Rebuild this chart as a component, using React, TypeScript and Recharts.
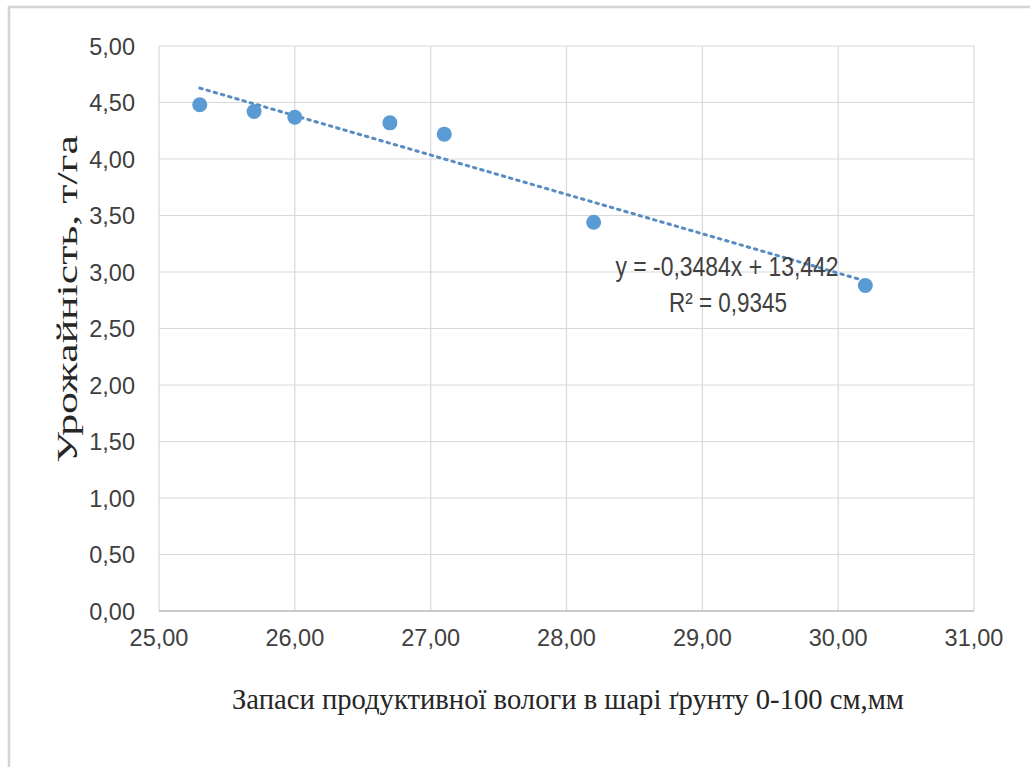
import React from 'react';
import { ScatterChart, Scatter, XAxis, YAxis, CartesianGrid, ReferenceLine } from 'recharts';

// moisture reserve (mm) vs yield (t/ha)
const moisture = [25.3, 25.7, 26.0, 26.7, 27.1, 28.2, 30.2];
const yieldTha = [4.48, 4.42, 4.37, 4.32, 4.22, 3.44, 2.88];
const xTicks = [25, 26, 27, 28, 29, 30, 31];
const yTicks = [0, 0.5, 1, 1.5, 2, 2.5, 3, 3.5, 4, 4.5, 5];

// linear trend as printed on the chart
const SLOPE = -0.3484;
const INTERCEPT = 13.442;
const R2 = 0.9345;

const points = moisture.map((x, i) => ({ x, y: yieldTha[i] }));
const xMin = Math.min(...moisture);
const xMax = Math.max(...moisture);
const trend = [
  { x: xMin, y: SLOPE * xMin + INTERCEPT },
  { x: xMax, y: SLOPE * xMax + INTERCEPT },
];

const BLUE = '#5b9bd5';
const GRID = '#d9d9d9';
const SANS = '"Liberation Sans", Arial, sans-serif';
const SERIF = '"Liberation Serif", "Times New Roman", serif';

const fmt = (v: number) => v.toFixed(2).replace('.', ',');

const XTick = (props: any) => {
  const { x, y, payload } = props;
  return (
    <text x={x} y={y + 35} textAnchor="middle" fontFamily={SANS} fontSize={23.5} fill="#404040">
      {fmt(payload.value)}
    </text>
  );
};

const YTick = (props: any) => {
  const { x, y, payload } = props;
  return (
    <text x={x} y={y + 8.5} textAnchor="end" fontFamily={SANS} fontSize={23.5} fill="#404040">
      {fmt(payload.value)}
    </text>
  );
};

const Dot = (props: any) => <circle cx={props.cx} cy={props.cy} r={7.5} fill={BLUE} />;

export default function App() {
  return (
    <div style={{ position: 'absolute', left: 0, top: 0, width: 1030, height: 767, background: '#fff' }}>
      <svg width={1030} height={767} style={{ position: 'absolute', left: 0, top: 0 }}>
        <rect x={9} y={7} width={1060} height={800} fill="none" stroke="#d4d4d4" strokeWidth={2.5} />
      </svg>
      <div style={{ position: 'absolute', left: 0, top: 0 }}>
        <ScatterChart width={1030} height={767} margin={{ top: 46, right: 56, bottom: 0, left: 0 }}>
          <CartesianGrid stroke={GRID} strokeWidth={1.2} />
          <XAxis
            type="number"
            dataKey="x"
            domain={[25, 31]}
            ticks={xTicks}
            height={156}
            tickLine={false}
            tickSize={0}
            tickMargin={0}
            axisLine={{ stroke: '#bfbfbf', strokeWidth: 1.5 }}
            tick={<XTick />}
            interval={0}
          />
          <YAxis
            type="number"
            dataKey="y"
            domain={[0, 5]}
            ticks={yTicks}
            width={159}
            tickLine={false}
            tickSize={0}
            tickMargin={24}
            axisLine={false}
            tick={<YTick />}
            interval={0}
          />
          <ReferenceLine
            segment={trend}
            stroke="#5a8cc4"
            strokeWidth={3}
            strokeDasharray="2.5 5"
            strokeLinecap="round"
            ifOverflow="visible"
          />
          <Scatter data={points} fill={BLUE} shape={<Dot />} isAnimationActive={false} />
        </ScatterChart>
      </div>
      <svg width={1030} height={767} style={{ position: 'absolute', left: 0, top: 0, pointerEvents: 'none' }}>
        <text
          x={568}
          y={709}
          textAnchor="middle"
          fontFamily={SERIF}
          fontSize={30}
          fill="#262626"
          textLength={672}
          lengthAdjust="spacingAndGlyphs"
        >
          Запаси продуктивної вологи в шарі ґрунту 0-100 см,мм
        </text>
        <text
          transform="translate(77,299) rotate(-90)"
          x={0}
          y={0}
          textAnchor="middle"
          fontFamily={SERIF}
          fontSize={30}
          fill="#262626"
          textLength={328}
          lengthAdjust="spacingAndGlyphs"
        >
          Урожайність, т/га
        </text>
        <text
          x={727}
          y={276}
          textAnchor="middle"
          fontFamily={SANS}
          fontSize={28}
          fill="#404040"
          textLength={223}
          lengthAdjust="spacingAndGlyphs"
        >
          {`y = ${fmtCoef(SLOPE, 4)}x + ${fmtCoef(INTERCEPT, 3)}`}
        </text>
        <text
          x={728}
          y={312}
          textAnchor="middle"
          fontFamily={SANS}
          fontSize={28}
          fill="#404040"
          textLength={118}
          lengthAdjust="spacingAndGlyphs"
        >
          {`R² = ${fmtCoef(R2, 4)}`}
        </text>
      </svg>
    </div>
  );
}

function fmtCoef(v: number, digits: number) {
  return v.toFixed(digits).replace('.', ',');
}
